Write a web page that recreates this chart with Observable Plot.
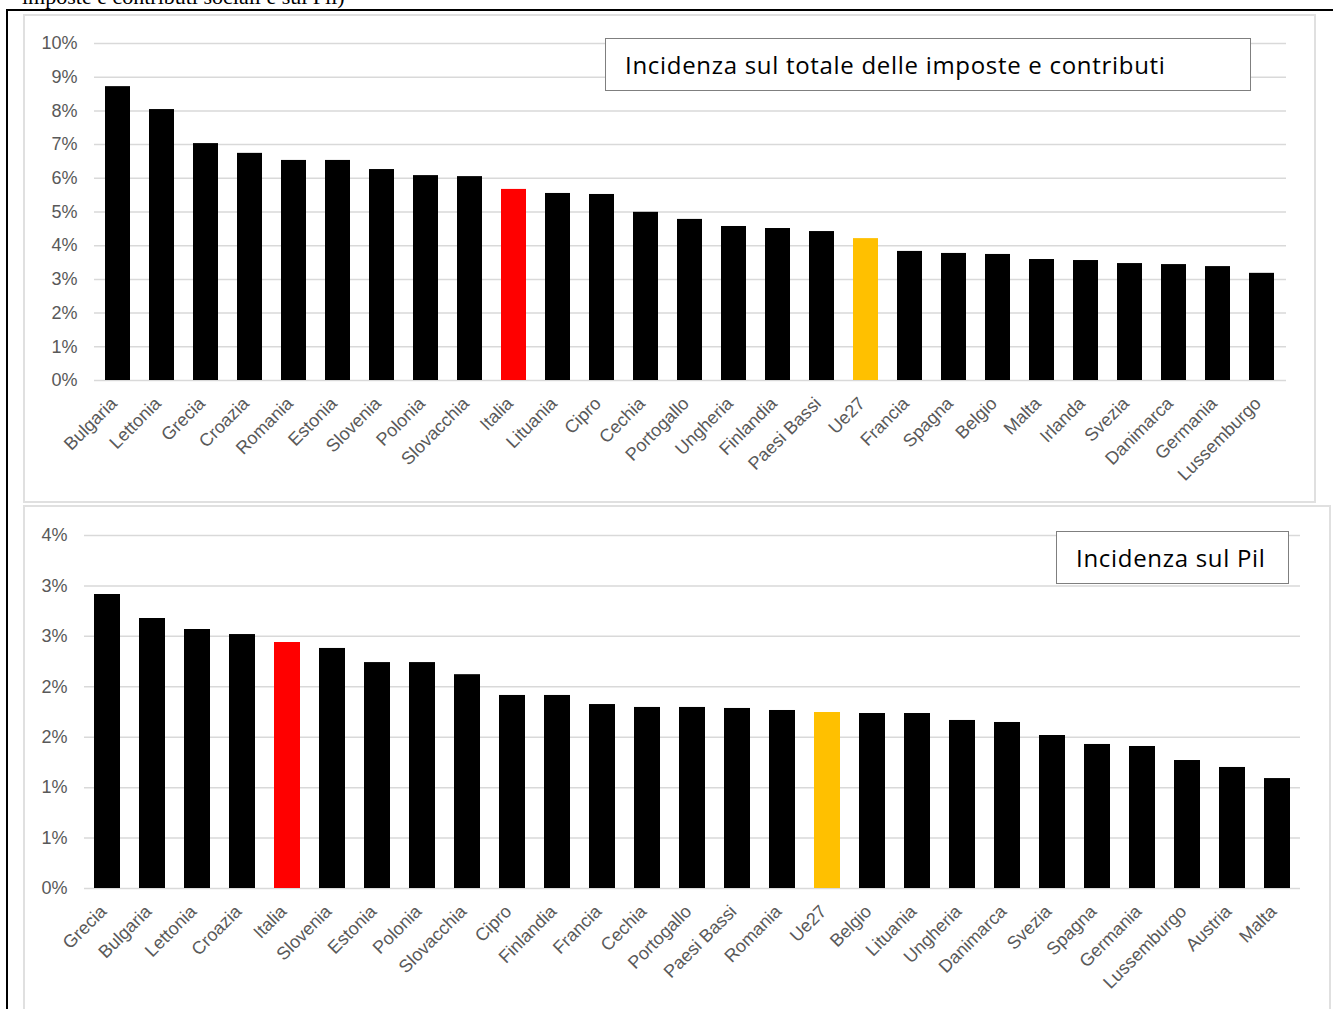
<!DOCTYPE html>
<html>
<head>
<meta charset="utf-8">
<script src="https://cdn.jsdelivr.net/npm/d3@7"></script>
<script src="https://cdn.jsdelivr.net/npm/@observablehq/plot@0.6"></script>
<style>
  html, body { margin: 0; padding: 0; background: #fff; }
  body { width: 1333px; height: 1009px; overflow: hidden; position: relative; font-family: "Liberation Sans", Arial, sans-serif; }
  .abs { position: absolute; }
  .frame { left: 6px; top: 9px; width: 1400px; height: 1100px; border: 2px solid #000; box-sizing: border-box; }
  .panel { border: 2px solid #e0e0e0; box-sizing: border-box; background: transparent; }
  .heading { left: 22px; top: -14px; font-family: "Liberation Serif", "Times New Roman", serif; font-size: 22px; line-height: 22px; color: #000; white-space: nowrap; }
  .key { border: 1.5px solid #7f7f7f; background: #fff; box-sizing: border-box; font-family: "Open Sans", Lato, sans-serif; font-size: 24px; letter-spacing: 0.7px; color: #000; display: flex; align-items: center; padding-left: 19px; white-space: nowrap; }
</style>
</head>
<body>
<div class="abs heading">imposte e contributi sociali e sul Pil)</div>
<div class="abs frame"></div>
<div class="abs panel" style="left:23px;top:14px;width:1293px;height:489px"></div>
<div class="abs panel" style="left:23px;top:505px;width:1308px;height:520px"></div>
<div id="top" class="abs" style="left:23px;top:14px"></div>
<div id="bottom" class="abs" style="left:23px;top:506px"></div>
<div class="abs key" style="left:605px;top:38px;width:646px;height:53px">Incidenza sul totale delle imposte e contributi</div>
<div class="abs key" style="left:1056px;top:531px;width:233px;height:53px">Incidenza sul Pil</div>
<script>
// Share of total taxes and contributions (%)
const topCountries = ["Bulgaria","Lettonia","Grecia","Croazia","Romania","Estonia","Slovenia","Polonia","Slovacchia","Italia","Lituania","Cipro","Cechia","Portogallo","Ungheria","Finlandia","Paesi Bassi","Ue27","Francia","Spagna","Belgio","Malta","Irlanda","Svezia","Danimarca","Germania","Lussemburgo"];
const topValues = [8.72,8.04,7.03,6.74,6.53,6.53,6.26,6.08,6.05,5.67,5.55,5.52,4.99,4.78,4.57,4.51,4.42,4.21,3.83,3.77,3.74,3.59,3.56,3.47,3.44,3.38,3.18];
const topTicks = [0,1,2,3,4,5,6,7,8,9,10];

// Share of GDP (%)
const bottomCountries = ["Grecia","Bulgaria","Lettonia","Croazia","Italia","Slovenia","Estonia","Polonia","Slovacchia","Cipro","Finlandia","Francia","Cechia","Portogallo","Paesi Bassi","Romania","Ue27","Belgio","Lituania","Ungheria","Danimarca","Svezia","Spagna","Germania","Lussemburgo","Austria","Malta"];
const bottomValues = [2.915,2.677,2.568,2.518,2.439,2.38,2.24,2.24,2.12,1.914,1.914,1.824,1.795,1.795,1.785,1.765,1.745,1.735,1.735,1.666,1.646,1.517,1.428,1.408,1.269,1.2,1.09];
const bottomTicks = [0,0.5,1,1.5,2,2.5,3,3.5];

const highlight = {"Italia": "#ff0000", "Ue27": "#ffc000"};
const barColor = name => highlight[name] || "#000000";
const pct = d => Math.round(d) + "%";

function barChart({names, values, ticks, width, height, marginLeft, marginRight, marginTop, marginBottom}) {
  const rows = names.map((name, i) => ({name, value: values[i]}));
  return Plot.plot({
    width, height, marginLeft, marginRight, marginTop, marginBottom,
    style: {fontFamily: "'Liberation Sans', Arial, sans-serif", fontSize: "18px", color: "#595959", background: "transparent", overflow: "visible"},
    x: {domain: names, paddingInner: 0.43, paddingOuter: 0.215},
    y: {domain: [0, ticks[ticks.length - 1]]},
    color: {type: "identity"},
    marks: [
      Plot.ruleY(ticks, {stroke: "#d9d9d9", strokeWidth: 1.5}),
      Plot.barY(rows, {x: "name", y: "value", fill: d => barColor(d.name)}),
      Plot.axisY(ticks, {tickFormat: pct, tickSize: 0, tickPadding: 17, label: null}),
      Plot.axisX({tickRotate: -45, tickSize: 0, tickPadding: 20, dx: -4, label: null})
    ]
  });
}

document.getElementById("top").append(barChart({
  names: topCountries, values: topValues, ticks: topTicks,
  width: 1292, height: 488, marginLeft: 71, marginRight: 29, marginTop: 29, marginBottom: 122
}));

document.getElementById("bottom").append(barChart({
  names: bottomCountries, values: bottomValues, ticks: bottomTicks,
  width: 1307, height: 503, marginLeft: 61, marginRight: 30, marginTop: 29, marginBottom: 121
}));
</script>
</body>
</html>
